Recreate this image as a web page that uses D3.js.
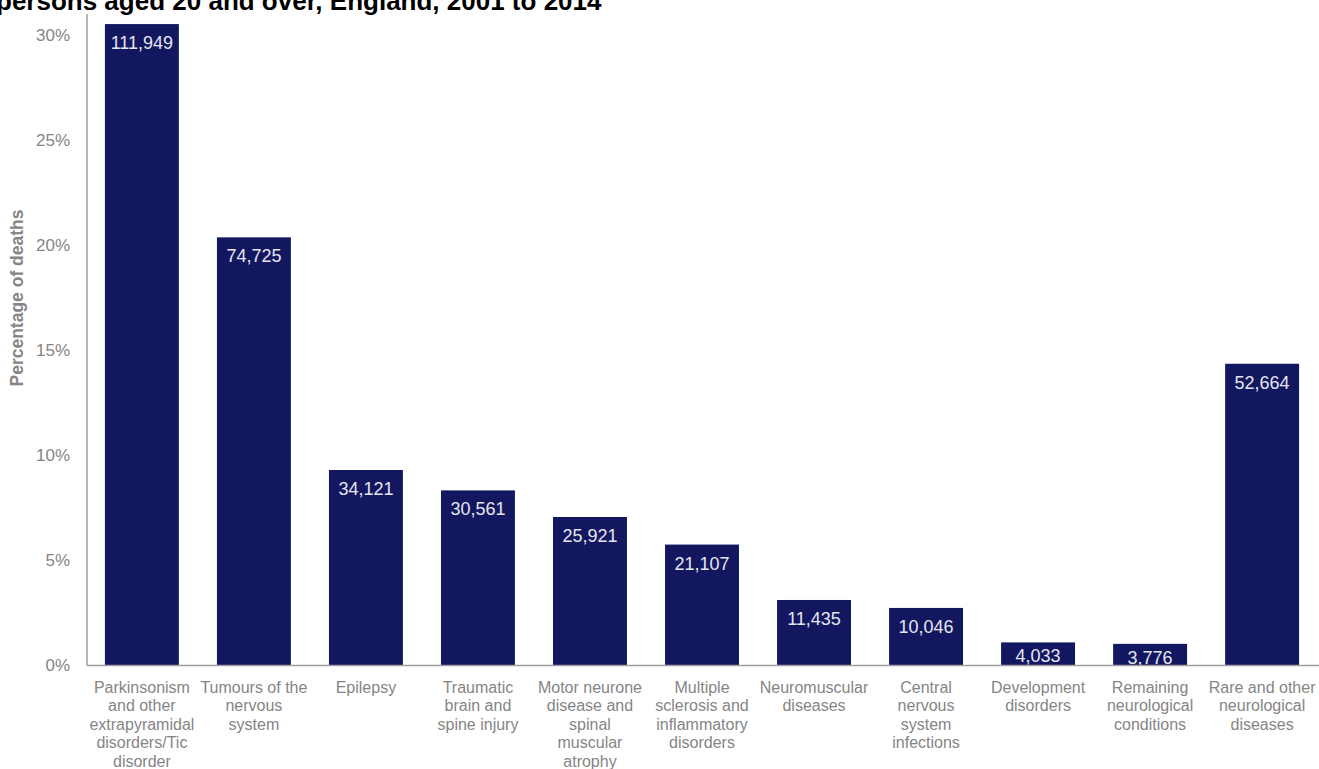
<!DOCTYPE html>
<html>
<head>
<meta charset="utf-8">
<script src="https://cdn.jsdelivr.net/npm/d3@7/dist/d3.min.js"></script>
<style>
  html, body { margin: 0; padding: 0; background: #ffffff; }
  svg { display: block; font-family: "Liberation Sans", Arial, sans-serif; }
</style>
</head>
<body>
<svg id="chart" width="1319" height="769"></svg>
<script>
// Deaths by underlying neurological cause, persons aged 20 and over, England, 2001 to 2014
const categories = [
  "Parkinsonism and other extrapyramidal disorders/Tic disorder",
  "Tumours of the nervous system",
  "Epilepsy",
  "Traumatic brain and spine injury",
  "Motor neurone disease and spinal muscular atrophy",
  "Multiple sclerosis and inflammatory disorders",
  "Neuromuscular diseases",
  "Central nervous system infections",
  "Development disorders",
  "Remaining neurological conditions",
  "Rare and other neurological diseases"
];

// Wrapped axis label lines for each category
const categoryLines = [
  ["Parkinsonism", "and other", "extrapyramidal", "disorders/Tic", "disorder"],
  ["Tumours of the", "nervous", "system"],
  ["Epilepsy"],
  ["Traumatic", "brain and", "spine injury"],
  ["Motor neurone", "disease and", "spinal", "muscular", "atrophy"],
  ["Multiple", "sclerosis and", "inflammatory", "disorders"],
  ["Neuromuscular", "diseases"],
  ["Central", "nervous", "system", "infections"],
  ["Development", "disorders"],
  ["Remaining", "neurological", "conditions"],
  ["Rare and other", "neurological", "diseases"]
];

// Number of deaths in each category
const deaths = [111949, 74725, 34121, 30561, 25921, 21107, 11435, 10046, 4033, 3776, 52664];

// Total deaths with a neurological condition mentioned (denominator for the shares)
const totalDeaths = 366800;

const yTicks = [0, 0.05, 0.10, 0.15, 0.20, 0.25, 0.30];

const titleText = "persons aged 20 and over, England, 2001 to 2014";
const yAxisTitle = "Percentage of deaths";

const data = categories.map((c, i) => ({
  name: c,
  lines: categoryLines[i],
  count: deaths[i],
  share: deaths[i] / totalDeaths
}));

const svg = d3.select("#chart");
const W = 1319;
const plot = { left: 87, right: 1317, top: 14, bottom: 665.5 };

const x = d3.scaleBand()
  .domain(categories)
  .range([plot.left, plot.right])
  .paddingInner(0.34)
  .paddingOuter(0.16);

const y = d3.scaleLinear()
  .domain([0, 0.31])
  .range([plot.bottom, plot.top]);

const barColor = "#121760";
const axisColor = "#a0a0a0";
const textGrey = "#858585";

// Title (its first line falls above the visible area)
svg.append("text")
  .attr("x", -4)
  .attr("y", 10)
  .attr("font-size", 26)
  .attr("font-weight", "bold")
  .attr("fill", "#000")
  .text(titleText);

// Y axis tick labels
const yAxis = d3.axisLeft(y)
  .tickValues(yTicks)
  .tickSize(0)
  .tickPadding(0)
  .tickFormat(d3.format(".0%"));

const gy = svg.append("g")
  .attr("transform", "translate(70,0)")
  .call(yAxis);
gy.select(".domain").remove();
gy.selectAll("text")
  .attr("font-size", 17)
  .attr("font-family", "'Liberation Sans', Arial, sans-serif")
  .attr("fill", textGrey);

// Y axis title
svg.append("text")
  .attr("transform", "translate(23,298) rotate(-90)")
  .attr("text-anchor", "middle")
  .attr("font-size", 17.5)
  .attr("font-weight", "bold")
  .attr("fill", textGrey)
  .text(yAxisTitle);

// Bars
svg.append("g")
  .selectAll("rect")
  .data(data)
  .join("rect")
  .attr("x", d => x(d.name))
  .attr("y", d => y(d.share))
  .attr("width", x.bandwidth())
  .attr("height", d => y(0) - y(d.share))
  .attr("fill", barColor);

// Value labels inside the top of each bar, clipped to the plot area
svg.append("clipPath")
  .attr("id", "plotClip")
  .append("rect")
  .attr("x", plot.left)
  .attr("y", 0)
  .attr("width", W - plot.left)
  .attr("height", plot.bottom - 0.5);

svg.append("g")
  .attr("clip-path", "url(#plotClip)")
  .selectAll("text")
  .data(data)
  .join("text")
  .attr("x", d => x(d.name) + x.bandwidth() / 2)
  .attr("y", d => {
    const top = y(d.share);
    return (y(0) - top) < 30 ? top + 20 : top + 25;
  })
  .attr("text-anchor", "middle")
  .attr("font-size", 18)
  .attr("fill", "#e6e6ee")
  .text(d => d3.format(",")(d.count));

// Axis lines
svg.append("line")
  .attr("x1", plot.left).attr("x2", plot.left)
  .attr("y1", plot.top).attr("y2", plot.bottom)
  .attr("stroke", axisColor).attr("stroke-width", 1.5);
svg.append("line")
  .attr("x1", plot.left).attr("x2", W)
  .attr("y1", plot.bottom).attr("y2", plot.bottom)
  .attr("stroke", axisColor).attr("stroke-width", 1.5);

// Category labels
const cat = svg.append("g")
  .selectAll("text")
  .data(data)
  .join("text")
  .attr("x", d => x(d.name) + x.bandwidth() / 2)
  .attr("y", 692.5)
  .attr("text-anchor", "middle")
  .attr("font-size", 16)
  .attr("fill", textGrey);

cat.selectAll("tspan")
  .data(d => d.lines)
  .join("tspan")
  .attr("x", function () { return d3.select(this.parentNode).attr("x"); })
  .attr("dy", (d, i) => i === 0 ? 0 : 18.5)
  .text(d => d);
</script>
</body>
</html>
